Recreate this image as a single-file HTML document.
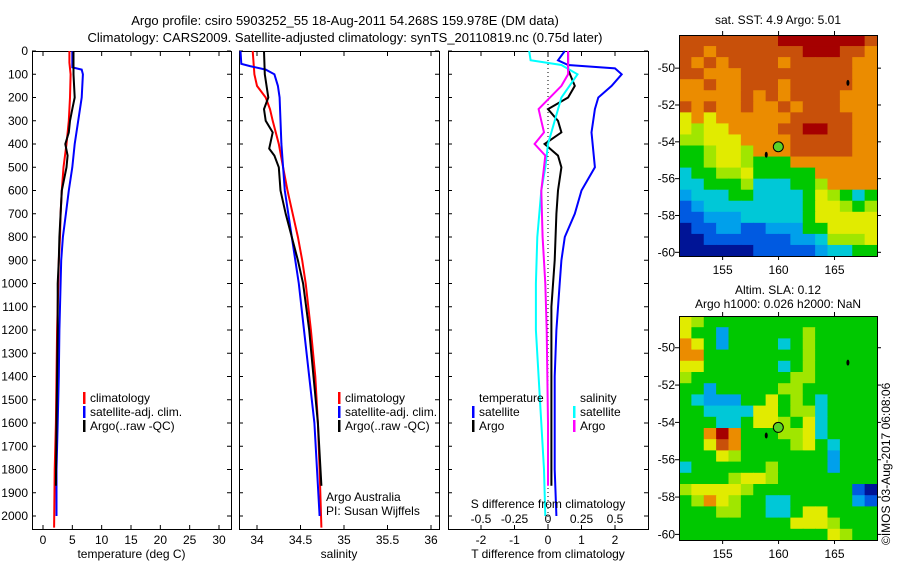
<!DOCTYPE html>
<html><head><meta charset="utf-8"><style>
body{margin:0;background:#fff;}
svg{display:block;font-family:"Liberation Sans",sans-serif;}
</style></head><body>
<svg id="fig" width="900" height="580">
<text x="345" y="25" font-size="13" text-anchor="middle">Argo profile: csiro 5903252_55 18-Aug-2011 54.268S 159.978E (DM data)</text>
<text x="345" y="42" font-size="13" text-anchor="middle">Climatology: CARS2009. Satellite-adjusted climatology: synTS_20110819.nc (0.75d later)</text>
<text x="778" y="24" font-size="12" text-anchor="middle">sat. SST: 4.9 Argo: 5.01</text>
<text x="778" y="294" font-size="12" text-anchor="middle">Altim. SLA: 0.12</text>
<text x="778" y="308" font-size="12" text-anchor="middle">Argo h1000: 0.026 h2000: NaN</text>
<text transform="translate(890,545) rotate(-90)" font-size="12">©IMOS 03-Aug-2017 06:08:06</text>
</svg>
<script>
// ---------- data ----------
const depthTicks=[0,100,200,300,400,500,600,700,800,900,1000,1100,1200,1300,1400,1500,1600,1700,1800,1900,2000];
const tempTicks=[0,5,10,15,20,25,30];
const salTicks=[34,34.5,35,35.5,36];
const tdTicks=[-2,-1,0,1,2];
const sdTicks=[-0.5,-0.25,0,0.25,0.5];
const climTdepth=[0,50,100,200,300,400,500,600,700,800,900,1000,1200,1400,1600,1800,2050];
const climT=[4.5,4.5,4.7,4.6,4.4,4.0,3.5,3.2,3.0,2.9,2.7,2.6,2.4,2.3,2.2,2.0,1.9];
const satTdepth=[0,70,80,100,200,300,400,500,600,700,800,900,1000,1200,1400,1600,1800,2000];
const satT=[5.0,5.0,6.6,6.8,6.6,6.0,5.4,5.0,4.4,3.9,3.4,3.1,3.0,2.8,2.7,2.5,2.3,2.3];
const argoTdepth=[0,100,200,250,300,350,400,450,500,600,700,800,900,1000,1200,1400,1600,1870];
const argoT=[5.2,5.2,5.4,5.0,4.6,4.4,3.8,4.2,4.0,3.2,3.0,2.8,2.7,2.5,2.5,2.4,2.3,2.2];
const climSdepth=[0,100,150,200,250,300,400,500,600,700,800,900,1000,1200,1400,1600,1800,2050];
const climS=[33.95,33.97,34.0,34.1,34.15,34.18,34.25,34.3,34.35,34.41,34.47,34.52,34.56,34.62,34.67,34.7,34.72,34.74];
const satSdepth=[0,55,65,80,100,150,200,300,400,500,600,700,800,900,1000,1200,1400,1600,1800,2000];
const satS=[33.81,33.82,33.92,34.1,34.2,34.24,34.26,34.27,34.28,34.3,34.32,34.36,34.4,34.44,34.48,34.54,34.6,34.66,34.69,34.72];
const argoSdepth=[0,100,200,250,300,350,420,450,500,600,700,800,900,1000,1200,1400,1600,1800,1870];
const argoS=[34.08,34.09,34.13,34.08,34.1,34.18,34.14,34.2,34.25,34.27,34.33,34.4,34.47,34.53,34.6,34.65,34.7,34.73,34.74];
const tdSatDepth=[0,40,60,75,100,150,200,250,350,500,600,700,800,900,1000,1200,1400,1600,1800,2000];
const tdSat=[0.5,0.3,0.6,2.0,2.2,1.9,1.5,1.4,1.3,1.4,1.0,0.8,0.5,0.4,0.35,0.25,0.2,0.2,0.2,0.25];
const tdArgoDepth=[0,80,150,200,250,300,350,400,450,500,600,700,900,1100,1400,1600,1870];
const tdArgo=[0.6,0.6,0.8,0.6,0.0,0.3,0.4,-0.1,0.3,0.4,0.3,0.25,0.2,0.1,0.1,0.1,0.1];
const sdSatDepth=[0,40,60,100,200,300,400,500,600,800,1000,1200,1400,1600,1800,2000];
const sdSat=[-0.14,-0.13,0.1,0.22,0.1,0.05,0.0,-0.02,-0.05,-0.08,-0.09,-0.09,-0.07,-0.05,-0.03,-0.02];
const sdArgoDepth=[0,60,100,150,250,300,350,400,450,500,600,800,1000,1200,1600,1870];
const sdArgo=[0.15,0.15,0.15,0.1,-0.07,-0.05,-0.03,-0.1,-0.02,-0.03,-0.05,-0.04,-0.02,-0.01,0.0,0.0];
const lonTicks=[155,160,165];
const latTicks=[-50,-52,-54,-56,-58,-60];
const sstGrid=["8888888899999998","8878888888999887","8787888878888877","8877788888888877","7787788878888877","7777787878888777","8787787787888777","6767777778888877","6566777788998877","5566677778888877","4456657778888877","4456654447777777","3445564444477777","3344453334457777","2333443333465434","1233333333466545","1122233333466666","0112211222446666","0011111112235556","0000001111123344"];
const slaGrid=["6544444444444444","6442444444544444","7642444434544444","7744444444544444","6644444434544444","5444444445544444","4424444455444444","4322244645434444","4433336645534444","4443346654634444","4479744455634444","4468744445643444","4446544444442444","3444444544442444","4444566544444444","5666654444444410","4576544334444421","4445544334664444","4444444446665444","4444444444446544"];
const floatLon=159.978, floatLat=-54.268;
const pastLon=[166.2,158.9], pastLat=[-50.8,-54.7];

// ---------- drawing ----------
const NS="http://www.w3.org/2000/svg";
const svg=document.getElementById('fig');
function el(tag,attrs,parent){const e=document.createElementNS(NS,tag);for(const k in attrs)e.setAttribute(k,attrs[k]);(parent||svg).appendChild(e);return e;}
function lin(d0,d1,r0,r1){return v=>r0+(v-d0)/(d1-d0)*(r1-r0);}
const yD=lin(0,2000,51,516);

function panel(name,x0,x1,xs,xt,xLabels,xtitle){
  const g=el('g',{});
  
  
  el('rect',{x:x0+0.5,y:51.5,width:x1-x0,height:478,fill:'none',stroke:'#000'},g);
  depthTicks.forEach(d=>{const y=yD(d);
    el('line',{x1:x0,x2:x0+4,y1:y,y2:y,stroke:'#000'},g);
    el('line',{x1:x1-4,x2:x1,y1:y,y2:y,stroke:'#000'},g);
  });
  xt.forEach((t,i)=>{const x=xs(t);
    el('line',{x1:x,x2:x,y1:52,y2:56,stroke:'#000'},g);
    el('line',{x1:x,x2:x,y1:525,y2:529,stroke:'#000'},g);
    const tx=el('text',{x:x,y:544,'font-size':12,'text-anchor':'middle'},g);tx.textContent=xLabels[i];
    
    
  });
  const tt=el('text',{x:(x0+x1)/2,y:558,'font-size':12,'text-anchor':'middle'},g);tt.textContent=xtitle;
  
  
  return g;
}
function line(g,xs,vals,depths,color,name){
  const p=vals.map((v,i)=>xs(v).toFixed(1)+','+yD(depths[i]).toFixed(1)).join(' ');
  const e=el('polyline',{points:p,fill:'none',stroke:color,'stroke-width':2},g);
  
  
}
function legend(g,x,y,items){
  items.forEach((it,i)=>{
    if(it[0]) el('rect',{x:x,y:y+i*14-10,width:2.5,height:12,fill:it[0]},g);
    const t=el('text',{x:x+7,y:y+i*14,'font-size':12},g);t.textContent=it[1];
    
    
  });
}
depthTicks.forEach(d=>{const t=el('text',{x:28,y:yD(d)+4,'font-size':12,'text-anchor':'end'});t.textContent=d;
  
  });

const xT=lin(0,30,43,219);
const g1=panel('temperature-panel',32,231,xT,tempTicks,tempTicks.map(String),'temperature (deg C)');
line(g1,xT,climT,climTdepth,'#f00','temp-climatology-line');
line(g1,xT,satT,satTdepth,'#00f','temp-satellite-line');
line(g1,xT,argoT,argoTdepth,'#000','temp-argo-line');
legend(g1,83,402,[['#f00','climatology'],['#00f','satellite-adj. clim.'],['#000','Argo(..raw -QC)']]);

const xS=lin(34,36,257,431);
const g2=panel('salinity-panel',239,439,xS,salTicks,salTicks.map(String),'salinity');
line(g2,xS,climS,climSdepth,'#f00','sal-climatology-line');
line(g2,xS,satS,satSdepth,'#00f','sal-satellite-line');
line(g2,xS,argoS,argoSdepth,'#000','sal-argo-line');
legend(g2,338,402,[['#f00','climatology'],['#00f','satellite-adj. clim.'],['#000','Argo(..raw -QC)']]);
const a1=el('text',{x:326,y:501,'font-size':12},g2);a1.textContent='Argo Australia';

const a2=el('text',{x:326,y:515,'font-size':12},g2);a2.textContent='PI: Susan Wijffels';


const xTd=lin(0,1,548,581.5);
const xSd=lin(0,0.25,548,581.5);
const g3=panel('difference-panel',448,648,xTd,tdTicks,tdTicks.map(String),'T difference from climatology');
el('line',{x1:548,x2:548,y1:52,y2:529,stroke:'#000','stroke-dasharray':'1,3'},g3);
line(g3,xTd,tdSat,tdSatDepth,'#00f','tdiff-satellite-line');
line(g3,xTd,tdArgo,tdArgoDepth,'#000','tdiff-argo-line');
line(g3,xSd,sdSat,sdSatDepth,'#0ff','sdiff-satellite-line');
line(g3,xSd,sdArgo,sdArgoDepth,'#f0f','sdiff-argo-line');
sdTicks.forEach(t=>{const tx=el('text',{x:xSd(t),y:523,'font-size':12,'text-anchor':'middle'},g3);tx.textContent=(t===0?'0':String(t));
  });
const st=el('text',{x:548,y:508,'font-size':12,'text-anchor':'middle'},g3);st.textContent='S difference from climatology';

legend(g3,472,402,[[null,'temperature'],['#00f','satellite'],['#000','Argo']]);
legend(g3,573,402,[[null,'salinity'],['#0ff','satellite'],['#f0f','Argo']]);

const cmap=['rgb(0,20,150)','rgb(0,90,225)','rgb(0,160,235)','rgb(0,200,215)','rgb(0,200,0)','rgb(160,230,0)','rgb(225,235,0)','rgb(235,140,0)','rgb(200,80,10)','rgb(165,0,0)'];
function map(name,y0,y1,latTop,latBot,grid){
  const x0=679,x1=877;
  const xL=lin(151.1,168.8,x0,x1), yL=lin(latTop,latBot,y0,y1);
  const g=el('g',{});
  
  
  const rows=grid.length, cols=grid[0].length, cw=(x1-x0)/cols, ch=(y1-y0)/rows;
  grid.forEach((r,i)=>{for(let j=0;j<cols;j++){
    el('rect',{x:x0+j*cw,y:y0+i*ch,width:cw+0.6,height:ch+0.6,fill:cmap[+r[j]]},g);
  }});
  el('rect',{x:x0+0.5,y:y0+0.5,width:x1-x0,height:y1-y0,fill:'none',stroke:'#000'},g);
  latTicks.forEach(t=>{const y=yL(t);
    el('line',{x1:x0-4,x2:x0,y1:y,y2:y,stroke:'#000'},g);
    el('line',{x1:x1,x2:x1+4,y1:y,y2:y,stroke:'#000'},g);
    const tx=el('text',{x:x0-4,y:y+4,'font-size':12,'text-anchor':'end'},g);tx.textContent=t;
    });
  lonTicks.forEach(t=>{const x=xL(t);
    el('line',{x1:x,x2:x,y1:y1,y2:y1+4,stroke:'#000'},g);
    el('line',{x1:x,x2:x,y1:y0-4,y2:y0,stroke:'#000'},g);
    const tx=el('text',{x:x,y:y1+18,'font-size':12,'text-anchor':'middle'},g);tx.textContent=t;
    });
  pastLon.forEach((lo,i)=>{
    const m=el('ellipse',{cx:xL(lo),cy:yL(pastLat[i]),rx:1.5,ry:3,fill:'#000'},g);
    
  });
  const c=el('circle',{cx:xL(floatLon),cy:yL(floatLat),r:5,fill:'rgb(90,210,40)',stroke:'#000'},g);
  
}
map('sst-map',35,256,-48.2,-60.2,sstGrid);
map('sla-map',316,540,-48.3,-60.3,slaGrid);
</script>
</body></html>
